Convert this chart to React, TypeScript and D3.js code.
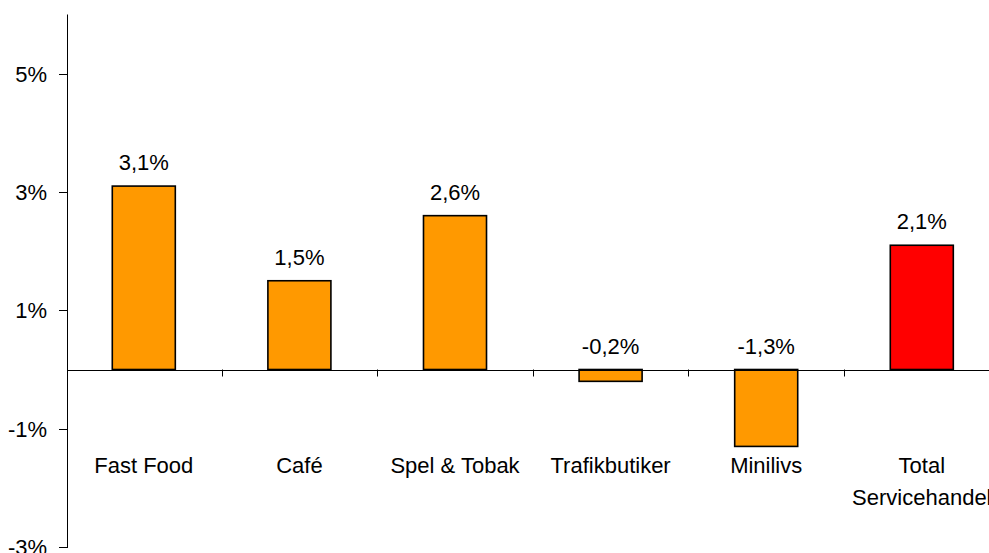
import React, { useEffect, useRef } from 'react';
import * as d3 from 'd3';

const categories = ['Fast Food', 'Café', 'Spel & Tobak', 'Trafikbutiker', 'Minilivs', 'Total Servicehandel'];
const values = [3.1, 1.5, 2.6, -0.2, -1.3, 2.1];
const barColors = ['#FF9900', '#FF9900', '#FF9900', '#FF9900', '#FF9900', '#FF0000'];
const yTicks = [-3, -1, 1, 3, 5];

const width = 989;
const height = 553;
const font = '"Liberation Sans", Arial, sans-serif';

const fmt = (v: number) => d3.format('.1f')(v).replace('.', ',').replace('\u2212', '-') + '%';

export default function App() {
  const ref = useRef<SVGSVGElement>(null);

  useEffect(() => {
    document.body.style.margin = '0';
    const svg = d3.select(ref.current);
    svg.selectAll('*').remove();

    const left = 67;
    const x = d3.scaleBand<string>()
      .domain(categories)
      .range([left - 1, left - 1 + 6 * 155.6])
      .paddingInner(0.595)
      .paddingOuter(0.2975);

    const y = d3.scaleLinear().domain([-3, 6]).range([547, 14.5]);
    const y0 = y(0);

    // bars
    svg.append('g')
      .selectAll('rect')
      .data(values)
      .join('rect')
      .attr('x', (d, i) => x(categories[i])!)
      .attr('y', d => Math.min(y(d), y0))
      .attr('width', x.bandwidth())
      .attr('height', d => Math.abs(y(d) - y0))
      .attr('fill', (d, i) => barColors[i])
      .attr('stroke', '#000')
      .attr('stroke-width', 1.6);

    // value labels
    svg.append('g')
      .selectAll('text')
      .data(values)
      .join('text')
      .attr('x', (d, i) => x(categories[i])! + x.bandwidth() / 2)
      .attr('y', d => Math.min(y(d), y0) - 16)
      .attr('text-anchor', 'middle')
      .attr('font-family', font)
      .attr('font-size', 22)
      .attr('fill', '#000')
      .text(d => fmt(d));

    // y axis
    const yAxis = svg.append('g');
    yAxis.append('line')
      .attr('x1', left + 0.5).attr('x2', left + 0.5)
      .attr('y1', y(6)).attr('y2', y(-3) + 1)
      .attr('stroke', '#000');
    yAxis.selectAll('line.tick')
      .data(yTicks)
      .join('line')
      .attr('class', 'tick')
      .attr('x1', left - 8).attr('x2', left)
      .attr('y1', d => Math.round(y(d)) + 0.5)
      .attr('y2', d => Math.round(y(d)) + 0.5)
      .attr('stroke', '#000');
    yAxis.selectAll('text')
      .data(yTicks)
      .join('text')
      .attr('x', 47)
      .attr('y', d => y(d) + 8)
      .attr('text-anchor', 'end')
      .attr('font-family', font)
      .attr('font-size', 22)
      .text(d => d + '%');

    // category axis along zero
    const xAxis = svg.append('g');
    xAxis.append('line')
      .attr('x1', left).attr('x2', width)
      .attr('y1', Math.round(y0) + 0.5).attr('y2', Math.round(y0) + 0.5)
      .attr('stroke', '#000');
    xAxis.selectAll('line.tick')
      .data(categories.slice(1))
      .join('line')
      .attr('class', 'tick')
      .attr('x1', d => Math.round(x(d)! - (x.step() - x.bandwidth()) / 2) + 0.5)
      .attr('x2', d => Math.round(x(d)! - (x.step() - x.bandwidth()) / 2) + 0.5)
      .attr('y1', y0).attr('y2', y0 + 7)
      .attr('stroke', '#000');

    const labels = xAxis.selectAll('text')
      .data(categories)
      .join('text')
      .attr('x', d => x(d)! + x.bandwidth() / 2)
      .attr('y', 473)
      .attr('text-anchor', 'middle')
      .attr('font-family', font)
      .attr('font-size', 22)
      .attr('fill', '#000');
    labels.each(function (d) {
      const words = d === 'Total Servicehandel' ? ['Total', 'Servicehandel'] : [d];
      const t = d3.select(this);
      const cx = +t.attr('x');
      words.forEach((w, i) => {
        t.append('tspan').attr('x', cx).attr('dy', i === 0 ? 0 : 32).text(w);
      });
    });
  }, []);

  return (
    <svg
      ref={ref}
      width={width}
      height={height}
      style={{ position: 'absolute', left: 0, top: 0, background: '#fff' }}
    />
  );
}
